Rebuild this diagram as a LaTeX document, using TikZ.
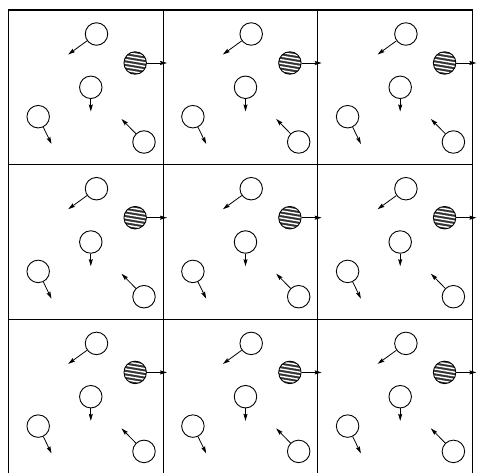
\documentclass[tikz,border=0pt]{standalone}
\usetikzlibrary{arrows.meta}
\begin{document}
\begin{tikzpicture}[x=1pt,y=-1pt,
  mol/.style={circle,draw,line width=0.9pt,minimum size=22.5pt,inner sep=0pt},
  hatched/.style={mol,path picture={
      \fill[black!80] (path picture bounding box.south west) rectangle (path picture bounding box.north east);
      \foreach \k in {-12.6,-9,...,12.6}
        \draw[white,line width=1.4pt] ([shift={(-15,\k-2.5)}]path picture bounding box.center) -- ++(30,5);}},
  vel/.style={line width=0.8pt,-{Stealth[length=7pt,width=4pt,inset=1pt]}},
  outer/.style={line width=1.5pt},
  inner/.style={line width=1pt}]
\useasboundingbox (0,0) rectangle (477,473);
\begin{scope}
\clip (0,0) rectangle (477,473);
\draw[inner] (163.2,10) -- (163.2,474.5) (317.9,10) -- (317.9,474.5)
             (8.5,164.7) -- (472.6,164.7) (8.5,319.4) -- (472.6,319.4);
\draw[outer] (8.5,10) rectangle (472.6,474.5);
\foreach \i in {0,1,2}{
  \foreach \j in {0,1,2}{
    \begin{scope}[shift={(8.5+154.7*\i,10+154.7*\j)}]
      \node[mol] (A\i\j) at (88,24) {};
      \coordinate (Ae\i\j) at (59.7,44.5);
      \draw[vel] (A\i\j) -- (Ae\i\j);
      \node[hatched] (H\i\j) at (126.7,53) {};
      \coordinate (He\i\j) at (158.5,53);
      \draw[vel] (H\i\j) -- (He\i\j);
      \node[mol] (B\i\j) at (82.3,77.3) {};
      \coordinate (Be\i\j) at (82.3,101.5);
      \draw[vel] (B\i\j) -- (Be\i\j);
      \node[mol] (C\i\j) at (29.7,106.7) {};
      \coordinate (Ce\i\j) at (43,134);
      \draw[vel] (C\i\j) -- (Ce\i\j);
      \node[mol] (D\i\j) at (135.5,132) {};
      \coordinate (De\i\j) at (113,109);
      \draw[vel] (D\i\j) -- (De\i\j);
    \end{scope}
  }
}
\end{scope}
\end{tikzpicture}
\end{document}
